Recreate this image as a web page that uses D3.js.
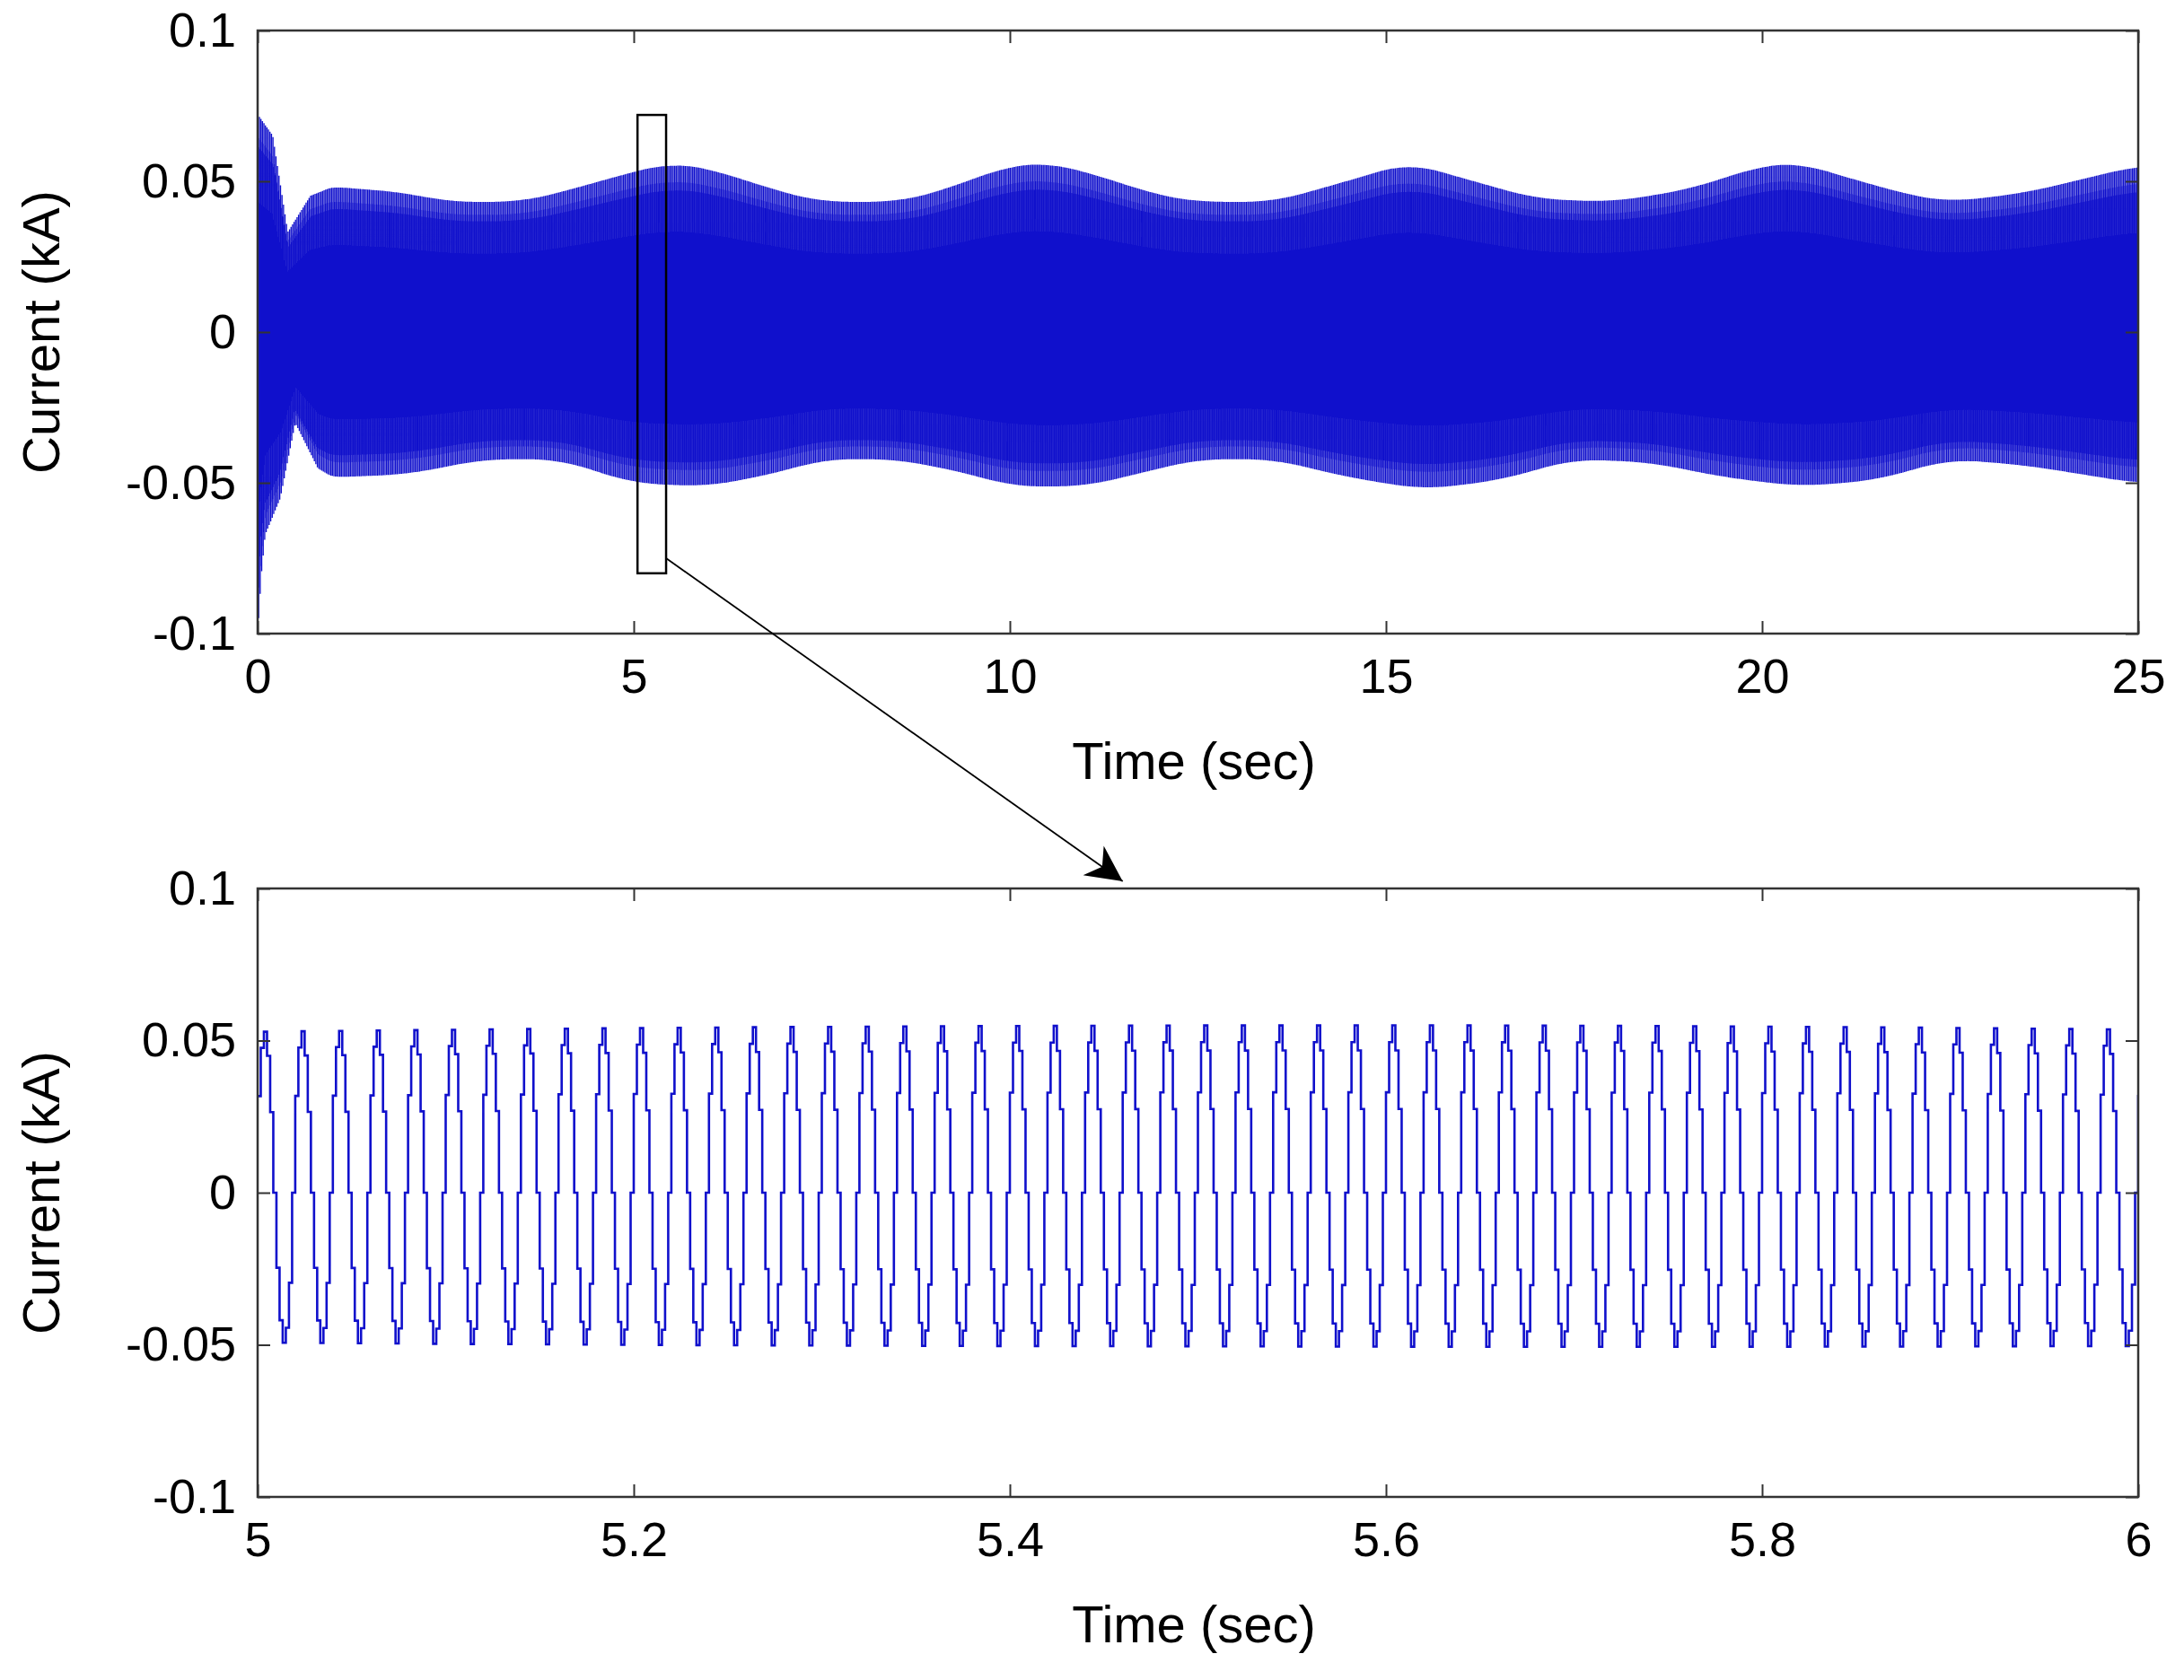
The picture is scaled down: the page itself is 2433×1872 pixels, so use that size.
<!DOCTYPE html>
<html><head><meta charset="utf-8">
<script src="https://cdn.jsdelivr.net/npm/d3@7.9.0/dist/d3.min.js"></script>
<style>body{margin:0;background:#fff}svg{font-family:"Liberation Sans",Arial,sans-serif}</style>
</head><body><div id="vis"></div>
<script>
const width = 2433, height = 1872;

// envelope (time s, kA)
const upperT = [0, 0.2, 0.4, 0.7, 1, 2, 2.5, 3.5, 4, 5, 5.5, 6, 7, 7.5, 8.5, 9, 10, 10.5, 11, 12, 12.5, 13.5, 14.5, 15.3, 16, 17, 18, 19, 20, 20.5, 21, 22, 22.5, 23.5, 25];
const upperV = [0.072, 0.065, 0.033, 0.045, 0.048, 0.046, 0.043, 0.043, 0.046, 0.053, 0.056, 0.054, 0.046, 0.043, 0.043, 0.046, 0.055, 0.056, 0.053, 0.045, 0.043, 0.043, 0.050, 0.056, 0.051, 0.044, 0.043, 0.047, 0.055, 0.056, 0.052, 0.045, 0.043, 0.046, 0.055];
const lowerT = [0, 0.05, 0.1, 0.3, 0.5, 0.8, 1, 2, 3, 4, 4.5, 5, 6, 7, 7.5, 8.5, 9.5, 10, 11, 12, 12.5, 13.5, 14.5, 15.5, 16.5, 17.5, 18.5, 19.5, 20.5, 21.5, 22.5, 23.5, 25];
const lowerV = [-0.1, -0.08, -0.067, -0.055, -0.03, -0.045, -0.048, -0.047, -0.042, -0.042, -0.046, -0.050, -0.051, -0.046, -0.042, -0.042, -0.047, -0.051, -0.051, -0.045, -0.042, -0.042, -0.048, -0.052, -0.049, -0.042, -0.043, -0.048, -0.051, -0.049, -0.042, -0.044, -0.050];
// stepped waveform over one 50 Hz cycle (normalised)
const freq = 50;
const stepShape = [0.6, 0.9, 1, 0.85, 0.5, 0, -0.5, -0.85, -1, -0.9, -0.6, 0];
const yTicks = [-0.1, -0.05, 0, 0.05, 0.1];
const xTicksTop = [0, 5, 10, 15, 20, 25];
const xTicksBottom = [5, 5.2, 5.4, 5.6, 5.8, 6];
const zoomBox = {t0: 5.05, t1: 5.43, y0: -0.08, y1: 0.072};

const upperLin = d3.scaleLinear().domain(upperT).range(upperV).clamp(true);
const lowerLin = d3.scaleLinear().domain(lowerT).range(lowerV).clamp(true);
// soften the corners of the read envelope, easing in after the start-up transient
function smooth(f) {
  return t => {
    const w = Math.min(0.12, Math.max(0, (t - 0.8) * 0.15));
    let s = 0;
    for (let i = -3; i <= 3; i++) s += f(t + i * w);
    return s / 7;
  };
}
const upperEnv = smooth(upperLin), lowerEnv = smooth(lowerLin);

function series(t0, t1) {
  const pts = [], n = stepShape.length, dt = 1 / freq / n;
  for (let k = Math.floor(t0 / dt); k * dt <= t1 + 1e-9; k++) {
    const t = k * dt, s = stepShape[k % n];
    pts.push([t, s >= 0 ? s * upperEnv(t) : -s * lowerEnv(t)]);
  }
  return pts;
}

const svg = d3.select("#vis").append("svg").attr("width", width).attr("height", height);
svg.append("defs").append("marker").attr("id", "arr").attr("viewBox", "0 0 10 10")
  .attr("refX", 10).attr("refY", 5).attr("markerWidth", 70).attr("markerHeight", 40)
  .attr("markerUnits", "userSpaceOnUse").attr("orient", "auto")
  .append("path").attr("d", "M0,0L10,5L0,10L3,5Z").attr("fill", "#000");

function panel(top, bottom, domain, ticks, fmt, data, sw) {
  const x = d3.scaleLinear().domain(domain).range([287, 2382]);
  const y = d3.scaleLinear().domain([-0.1, 0.1]).range([bottom, top]);
  const g = svg.append("g");
  const clip = "c" + top;
  g.append("clipPath").attr("id", clip).append("rect")
    .attr("x", 287).attr("y", top).attr("width", 2095).attr("height", bottom - top);
  g.append("path").datum(data).attr("clip-path", `url(#${clip})`)
    .attr("fill", "none").attr("stroke", "#1010cc").attr("stroke-width", sw)
    .attr("d", d3.line().x(d => x(d[0])).y(d => y(d[1])).curve(d3.curveStepAfter));
  const tl = 14;
  g.append("g").attr("transform", `translate(0,${bottom})`)
    .call(d3.axisBottom(x).tickValues(ticks).tickFormat(fmt).tickSizeInner(-tl).tickSizeOuter(0).tickPadding(28));
  g.append("g").attr("transform", `translate(0,${top})`)
    .call(d3.axisTop(x).tickValues(ticks).tickFormat("").tickSizeInner(-tl).tickSizeOuter(0));
  g.append("g").attr("transform", "translate(287,0)")
    .call(d3.axisLeft(y).tickValues(yTicks).tickFormat(d => d === 0 ? "0" : String(d)).tickSizeInner(-tl).tickSizeOuter(0).tickPadding(24));
  g.append("g").attr("transform", "translate(2382,0)")
    .call(d3.axisRight(y).tickValues(yTicks).tickFormat("").tickSizeInner(-tl).tickSizeOuter(0));
  g.selectAll(".domain").remove();
  g.selectAll(".tick line").attr("stroke", "#333").attr("stroke-width", 2);
  g.selectAll(".tick text").attr("font-size", 54).attr("fill", "#000");
  g.append("rect").attr("x", 287).attr("y", top).attr("width", 2095).attr("height", bottom - top)
    .attr("fill", "none").attr("stroke", "#333").attr("stroke-width", 2.5);
  g.append("text").attr("x", 1330).attr("y", bottom + 162).attr("text-anchor", "middle")
    .attr("font-size", 58).text("Time (sec)");
  g.append("text").attr("transform", `translate(66,${(top + bottom) / 2}) rotate(-90)`)
    .attr("text-anchor", "middle").attr("font-size", 58).text("Current (kA)");
  return {x, y};
}

const topP = panel(34, 706, [0, 25], xTicksTop, d3.format("d"), series(0, 25), 1.2);
const botP = panel(990, 1668, [5, 6], xTicksBottom, d => d3.format(".1f")(d).replace(/\.0$/, ""), series(5, 6), 2.6);

svg.append("rect").attr("x", topP.x(zoomBox.t0)).attr("y", topP.y(zoomBox.y1))
  .attr("width", topP.x(zoomBox.t1) - topP.x(zoomBox.t0)).attr("height", topP.y(zoomBox.y0) - topP.y(zoomBox.y1))
  .attr("fill", "none").attr("stroke", "#000").attr("stroke-width", 2.5);
svg.append("line").attr("x1", topP.x(zoomBox.t1)).attr("y1", topP.y(-0.075))
  .attr("x2", botP.x(5.46)).attr("y2", botP.y(0.1) - 8)
  .attr("stroke", "#000").attr("stroke-width", 1.8).attr("marker-end", "url(#arr)");
</script></body></html>
